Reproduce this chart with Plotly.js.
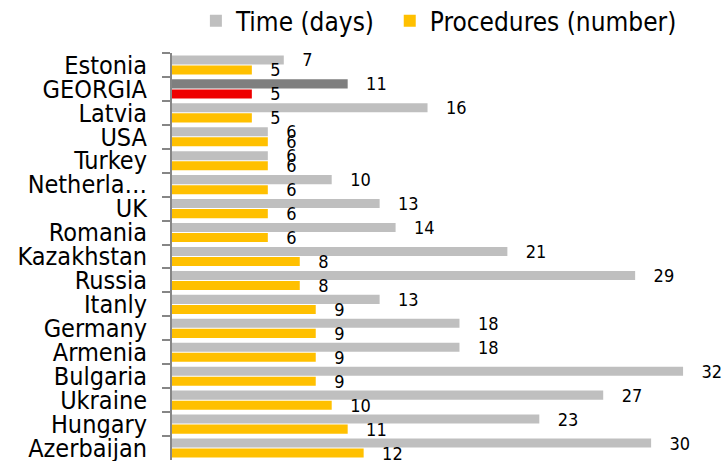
<!DOCTYPE html>
<html>
<head>
<meta charset="utf-8">
<script src="https://cdn.plot.ly/plotly-3.0.1.min.js"></script>
<style>html,body{margin:0;padding:0;background:#fff;}#chart{width:725px;height:461px;}</style>
</head>
<body>
<div id="chart"></div>
<script>
const countries = ["Estonia","GEORGIA","Latvia","USA","Turkey","Netherla…","UK","Romania","Kazakhstan","Russia","Itanly","Germany","Armenia","Bulgaria","Ukraine","Hungary","Azerbaijan"];
const timeDays = [7,11,16,6,6,10,13,14,21,29,13,18,18,32,27,23,30];
const procedures = [5,5,5,6,6,6,6,6,8,8,9,9,9,9,10,11,12];
const highlight = "GEORGIA";

const FONT = "DejaVu Sans Condensed, DejaVu Sans, sans-serif";
const timeColors = countries.map(c => c === highlight ? "#7F7F7F" : "#BFBFBF");
const procColors = countries.map(c => c === highlight ? "#EE0000" : "#FFC000");

const traces = [
  {
    type: "bar", orientation: "h", name: "Time (days)", legend: "legend",
    y: countries, x: timeDays,
    marker: {color: timeColors},
    text: timeDays.map(v => "   " + v), textposition: "outside", constraintext: "none",
    textfont: {family: FONT, size: 18, color: "#000"},
    cliponaxis: false, hoverinfo: "skip"
  },
  {
    type: "bar", orientation: "h", name: "Procedures (number)", legend: "legend2",
    y: countries, x: procedures,
    marker: {color: procColors},
    text: procedures.map(v => "   " + v), textposition: "outside", constraintext: "none",
    textfont: {family: FONT, size: 18, color: "#000"},
    cliponaxis: false, hoverinfo: "skip"
  }
];

const legendBase = {orientation: "h", xanchor: "left", yref: "container", y: 0.955, yanchor: "middle",
  font: {family: FONT, size: 26, color: "#000"}, itemwidth: 30, bgcolor: "rgba(0,0,0,0)"};

const layout = {
  width: 725, height: 461,
  margin: {l: 172, r: 10, t: 53, b: 1, autoexpand: false},
  paper_bgcolor: "#fff", plot_bgcolor: "#fff",
  font: {family: FONT, size: 20, color: "#000"},
  barmode: "group", bargap: 0.16, bargroupgap: 0.1,
  showlegend: true,
  legend: Object.assign({}, legendBase, {x: 0.044}),
  legend2: Object.assign({}, legendBase, {x: 0.401}),
  xaxis: {range: [0, 34], visible: false, fixedrange: true},
  yaxis: {
    type: "category", autorange: "reversed", automargin: false,
    tickmode: "linear", tick0: 0, dtick: 1,
    tickson: "boundaries", ticks: "outside", ticklen: 8, tickwidth: 2, tickcolor: "#868686",
    showline: true, linecolor: "#868686", linewidth: 2,
    showgrid: false, zeroline: false,
    ticklabelstandoff: 18,
    tickfont: {family: FONT, size: 25, color: "#000"}
  }
};

Plotly.newPlot("chart", traces, layout, {displayModeBar: false, staticPlot: true});
</script>
</body>
</html>
